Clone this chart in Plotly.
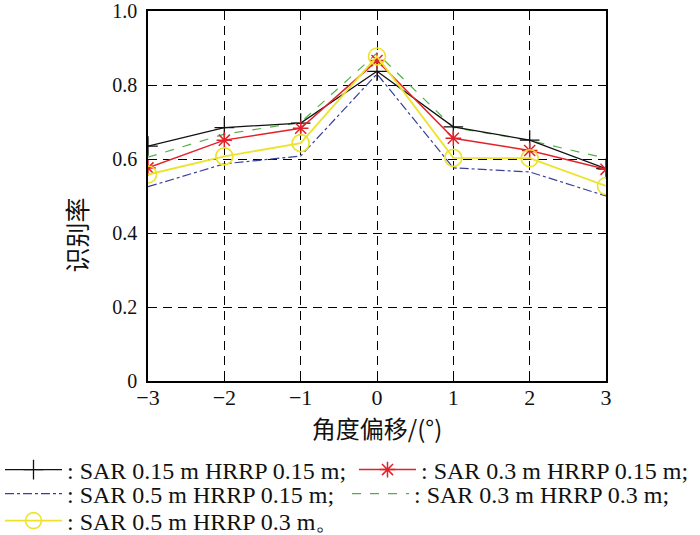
import plotly.graph_objects as go

x_vals = [-3, -2, -1, 0, 1, 2, 3]

sar015_hrrp015 = [0.635, 0.685, 0.697, 0.837, 0.687, 0.651, 0.574]
sar03_hrrp015 = [0.576, 0.651, 0.683, 0.866, 0.656, 0.623, 0.572]
sar05_hrrp015 = [0.525, 0.587, 0.608, 0.830, 0.576, 0.565, 0.500]
sar03_hrrp03 = [0.605, 0.667, 0.699, 0.886, 0.685, 0.650, 0.602]
sar05_hrrp03 = [0.558, 0.607, 0.643, 0.877, 0.603, 0.602, 0.527]

names = [
    ": SAR 0.15 m HRRP 0.15 m;",
    ": SAR 0.3 m HRRP 0.15 m;",
    ": SAR 0.5 m HRRP 0.15 m;",
    ": SAR 0.3 m HRRP 0.3 m;",
    ": SAR 0.5 m HRRP 0.3 m。",
]

y_ticks = [0, 0.2, 0.4, 0.6, 0.8, 1.0]
y_ticktext = ["0", "0.2", "0.4", "0.6", "0.8", "1.0"]

serif = "Liberation Serif"
cjk = "Noto Sans CJK SC"

fig = go.Figure()

fig.add_trace(go.Scatter(x=x_vals, y=sar05_hrrp015, name=names[2], mode="lines",
                         line=dict(color="#3a3f9a", width=1.2, dash="dashdot"),
                         legend="legend3"))
fig.add_trace(go.Scatter(x=x_vals, y=sar03_hrrp03, name=names[3], mode="lines",
                         line=dict(color="#52b04a", width=1.2, dash="dash"),
                         legend="legend4"))
fig.add_trace(go.Scatter(x=x_vals, y=sar015_hrrp015, name=names[0], mode="lines+markers",
                         line=dict(color="#111111", width=1.3),
                         marker=dict(symbol="cross-thin-open", size=14,
                                     line=dict(color="#111111", width=1.3)),
                         legend="legend"))
fig.add_trace(go.Scatter(x=x_vals, y=sar03_hrrp015, name=names[1], mode="lines+markers",
                         line=dict(color="#e2222b", width=1.5),
                         marker=dict(symbol="asterisk-open", size=13,
                                     line=dict(color="#e2222b", width=1.5)),
                         legend="legend2"))
fig.add_trace(go.Scatter(x=x_vals, y=sar05_hrrp03, name=names[4], mode="lines+markers",
                         line=dict(color="#ece32a", width=1.8),
                         marker=dict(symbol="circle-open", size=17,
                                     line=dict(color="#ece32a", width=1.6)),
                         legend="legend5"))

for tr in fig.data:
    tr.showlegend = True

W, H = 700, 535
TOP, BOTTOM_PX = 11, 381

def leg(xpx, ypx):
    return dict(xref="container", yref="container", x=max(xpx, 0) / W, y=1 - ypx / H,
                xanchor="left", yanchor="middle", orientation="h",
                itemwidth=57, bgcolor="rgba(0,0,0,0)", borderwidth=0,
                font=dict(family=serif, size=24, color="#111111"),
                traceorder="normal", visible=True)

fig.update_layout(
    width=W, height=H,
    showlegend=True,
    margin=dict(l=148, r=94, t=TOP, b=H - BOTTOM_PX, autoexpand=False),
    paper_bgcolor="white", plot_bgcolor="white",
    font=dict(family=serif, size=21, color="#111111"),
    legend=leg(0, 470),
    legend2=leg(354, 470),
    legend3=leg(0, 494),
    legend4=leg(347, 494),
    legend5=leg(0, 521),
    xaxis=dict(
        range=[-3, 3], tickvals=x_vals, ticks="inside", ticklen=5,
        tickcolor="black", showline=True, linecolor="black", linewidth=1.5,
        mirror="ticks", showgrid=True, gridcolor="black", gridwidth=1,
        griddash="9px,6px", zeroline=False, automargin=False,
        tickfont=dict(family=serif, size=22, color="#111111"),
        ticklabelstandoff=-4, ticklabeloverflow="allow",
        title=dict(text="角度偏移/(°)", font=dict(family=cjk, size=24, color="#111111"),
                   standoff=8),
    ),
    yaxis=dict(
        range=[0, 1], tickvals=y_ticks, ticktext=y_ticktext, ticks="inside",
        ticklen=5, tickcolor="black", showline=True, linecolor="black",
        linewidth=1.5, mirror="ticks", showgrid=True, gridcolor="black",
        gridwidth=1, griddash="9px,6px", zeroline=False, automargin=False,
        tickfont=dict(family=serif, size=20, color="#111111"),
        ticklabelstandoff=5, ticklabeloverflow="allow",
    ),
    annotations=[dict(
        text="识别率", xref="paper", yref="paper",
        x=(75.5 - 148) / 458, y=(BOTTOM_PX - 235) / (BOTTOM_PX - TOP),
        xanchor="center", yanchor="middle", textangle=-90, showarrow=False,
        font=dict(family=cjk, size=25, color="#111111"),
    )],
)

fig.write_html("out.html")
